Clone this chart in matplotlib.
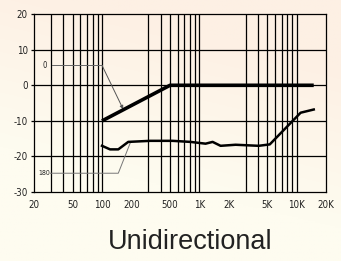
import numpy as np
import matplotlib
matplotlib.use("Agg")
import matplotlib.pyplot as plt
from matplotlib.colors import LinearSegmentedColormap

# response curves, frequency in Hz, level in dB
freq_0 = [100, 500, 15000]
level_0 = [-10, 0, 0]

freq_180 = [100, 121, 147, 186, 314, 530, 811, 1160, 1370, 1655, 2360, 4070, 5300, 11000, 15000]
level_180 = [-17.0, -18.0, -18.0, -15.9, -15.6, -15.6, -15.9, -16.4, -15.9, -17.0, -16.7, -17.0, -16.6, -7.7, -6.8]

x_ticks = [20, 50, 100, 200, 500, 1000, 2000, 5000, 10000, 20000]
x_labels = ["20", "50", "100", "200", "500", "1K", "2K", "5K", "10K", "20K"]
y_ticks = [-30, -20, -10, 0, 10, 20]
title = "Unidirectional"

narrow = ["Liberation Sans Narrow", "DejaVu Sans"]
lab = dict(family=narrow, stretch="condensed", color="#222222")

fig = plt.figure(figsize=(3.41, 2.61), dpi=100)

# soft background gradient
bg = fig.add_axes([0, 0, 1, 1], zorder=-10)
yy, xx = np.mgrid[0:1:200j, 0:1:200j]
t = np.clip(1.6 * yy + 0.5 * xx - 0.7, 0, 1)
cmap = LinearSegmentedColormap.from_list("bg", ["#fefcf0", "#fdf0e4"])
bg.imshow(t, cmap=cmap, origin="lower", extent=[0, 1, 0, 1], aspect="auto")
bg.axis("off")

ax = fig.add_axes([0.0997, 0.264, 0.856, 0.682])
ax.patch.set_alpha(0)
ax.set_xscale("log")
ax.set_xlim(20, 20000)
ax.set_ylim(-30, 20)

ax.set_xticks(x_ticks)
ax.set_xticklabels(x_labels, fontsize=7, **lab)
ax.minorticks_off()
ax.set_yticks(y_ticks)
ax.set_yticklabels([str(v) for v in y_ticks], fontsize=7, **lab)
ax.tick_params(axis="x", length=0, pad=6)
ax.tick_params(axis="y", length=2.5, width=0.9, pad=2)

# grid
for v in [30, 40, 50, 60, 70, 80, 90, 100]:
    for d in [1, 10, 100]:
        f = v * d
        if 20 < f < 10001:
            ax.axvline(f, color="black", lw=0.9, zorder=1)
for v in [-20, -10, 0, 10]:
    ax.axhline(v, color="black", lw=0.9, zorder=1)
for s in ax.spines.values():
    s.set_linewidth(0.9)

ax.plot(freq_0, level_0, color="black", lw=2.6, solid_capstyle="butt", zorder=3)
ax.plot(freq_180, level_180, color="black", lw=1.8, zorder=3)

# leader lines
ax.plot([30.6, 100], [5.6, 5.6], color="#666666", lw=0.7, zorder=2)
ax.annotate("", xy=(165, -6.7), xytext=(100, 5.6),
            arrowprops=dict(arrowstyle="-|>", color="#555555", lw=0.7,
                            mutation_scale=5, shrinkA=0, shrinkB=0), zorder=2)
ax.text(25.6, 5.6, "0", fontsize=5.5, ha="center", va="center", **lab)

ax.plot([29.5, 147, 195], [-24.7, -24.7, -16.2], color="#777777", lw=0.7, zorder=2)
ax.text(25.2, -24.7, "180", fontsize=5, ha="center", va="center", **lab)

fig.text(0.557, 0.072, title, family=["Liberation Sans", "DejaVu Sans"],
         fontsize=19.5, color="#222222", ha="center", va="center")

fig.savefig("out.png", dpi=100)
